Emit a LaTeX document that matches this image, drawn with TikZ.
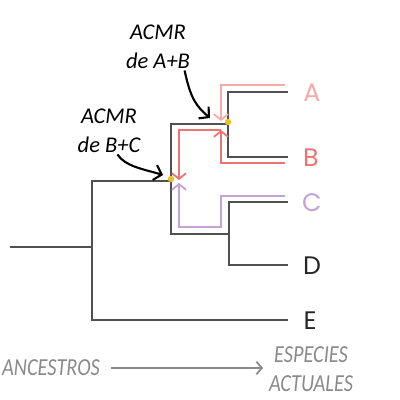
\documentclass[tikz,border=0pt]{standalone}
\usepackage{fontspec}
\setmainfont{Poppins}
\newfontfamily\handfont{Carlito}
\usetikzlibrary{arrows.meta, positioning}

\definecolor{treegray}{HTML}{505050}
\definecolor{linA}{HTML}{F9A9A9}
\definecolor{linB}{HTML}{F07373}
\definecolor{linC}{HTML}{C3A3D6}
\definecolor{mrca}{HTML}{E8C224}
\definecolor{axisgray}{HTML}{8A8A8A}

\begin{document}
\begin{tikzpicture}[
  x=0.025cm, y=-0.025cm,
  tree/.style={draw=treegray, line width=1.8pt},
  lineage/.style={line width=1.6pt, -{Straight Barb[length=4pt,width=10pt,line width=1.3pt]}},
  pointer/.style={draw=black, line width=1.5pt, -{Straight Barb[length=5pt,width=11pt]}},
  taxon/.style={font=\fontsize{18}{20}\selectfont, inner sep=0pt},
  note/.style={font=\handfont\itshape\fontsize{16}{20.5}\selectfont, align=center, inner sep=1pt},
  axislabel/.style={font=\handfont\itshape\fontsize{14.5}{17}\selectfont, text=axisgray, align=center, inner sep=2pt, yscale=1.2, transform shape},
  axis/.style={draw=axisgray, line width=1.2pt, -{Straight Barb[length=4pt,width=9pt]}, shorten <=6pt, shorten >=2pt}
  ]
\useasboundingbox (0,0) rectangle (400,400);
% internal nodes of the tree
\coordinate (root) at (10,247);
\coordinate (bce) at (92,247);
\coordinate (bc) at (171,181);
\coordinate (ab) at (228,124);
\coordinate (cd) at (229,234);
% tips
\coordinate (tA) at (288,92);
\coordinate (tB) at (288,157);
\coordinate (tC) at (288,202);
\coordinate (tD) at (288,265);
\coordinate (tE) at (288,320);
\begin{scope}[every node/.append style={taxon}]
  \node[text=linA] (A) at (312,93) {A};
  \node[text=linB] (B) at (311,158) {B};
  \node[text=linC] (C) at (312,203) {C};
  \node[text=black!85] (D) at (312,266) {D};
  \node[text=black!85] (E) at (310,321) {E};
\end{scope}
\path[tree] (root) -- (bce)
            (bc) -| (bce) |- (tE)
            (ab) -| (bc) |- (cd)
            (tA) -| (ab) |- (tB)
            (tC) -| (cd) |- (tD);
% lineages going back in time
\coordinate (sA) at (285,85);
\coordinate (eA) at (221,121);
\coordinate (sB) at (285,163);
\coordinate (eB) at (221,130);
\coordinate (fB) at (179,180);
\coordinate (sC) at (285,196);
\coordinate (kC) at (221,227);
\coordinate (eC) at (179,183);
\draw[lineage, linA] (sA) -| (eA);
\draw[lineage, linB] (sB) -| (eB);
\draw[lineage, linB] (eB) -| (fB);
\draw[lineage, linC] (sC) -| (kC) -| (eC);
\fill[mrca] (ab) ++(0,-2) circle (3.2);
\fill[mrca] (bc) ++(0,-2) circle (3.2);
% annotations
\node[note] (noteAB) at (158,47) {ACMR\\de A+B};
\node[note] (noteBC) at (109,131) {ACMR\\de B+C};
\coordinate (tipAB) at (210,118);
\coordinate (tipBC) at (163,175);
\draw[pointer] ([xshift=-5pt]noteAB.south east) .. controls +(6,28) and +(-14,-12) .. (tipAB);
\draw[pointer] ([xshift=6pt]noteBC.south) .. controls +(8,12) and +(-20,-6) .. (tipBC);
% time axis
\node[axislabel] (anc) at (51,368) {ANCESTROS};
\node[axislabel] (now) at (311,369) {ESPECIES\\ACTUALES};
\draw[axis] (anc) -- (now.west |- anc);
\end{tikzpicture}
\end{document}
